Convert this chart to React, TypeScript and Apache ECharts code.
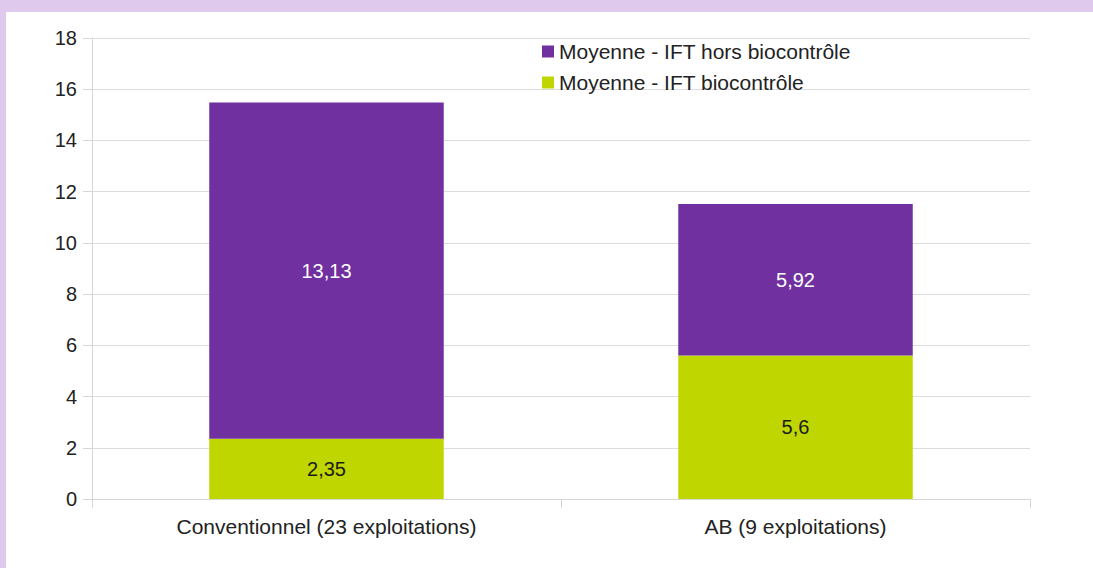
import React, { useEffect, useRef } from "react";
import * as echarts from "echarts";

const categories = ["Conventionnel (23 exploitations)", "AB (9 exploitations)"];
const biocontrole = [2.35, 5.6];
const horsBiocontrole = [13.13, 5.92];
const seriesNames = ["Moyenne - IFT hors biocontrôle", "Moyenne - IFT biocontrôle"];

const fmt = (v: number) => String(v).replace(".", ",");

export default function App() {
  const ref = useRef<HTMLDivElement>(null);
  useEffect(() => {
    document.body.style.margin = "0";
    const chart = echarts.init(ref.current!, null, { renderer: "svg" });
    const font = "'Liberation Sans', Arial, sans-serif";
    chart.setOption({
      animation: false,
      backgroundColor: "#dfc9ec",
      textStyle: { fontFamily: font },
      graphic: [
        {
          type: "rect",
          z: -10,
          silent: true,
          shape: { x: 6, y: 12, width: 1087, height: 556 },
          style: { fill: "#ffffff" },
        },
      ],
      legend: {
        orient: "vertical",
        left: 537,
        top: 36,
        itemWidth: 12,
        itemHeight: 12,
        itemGap: 10,
        icon: "rect",
        data: seriesNames,
        textStyle: { fontSize: 21, lineHeight: 20, color: "#222", fontFamily: font },
      },
      grid: { left: 92, right: 63, top: 38, bottom: 69, containLabel: false },
      xAxis: {
        type: "category",
        data: categories,
        axisLine: { show: true, lineStyle: { color: "#d6d6d6" } },
        axisTick: { show: true, length: 9, alignWithLabel: false, lineStyle: { color: "#d6d6d6" } },
        axisLabel: { fontSize: 21, color: "#222", margin: 17, fontFamily: font },
        splitLine: { show: false },
      },
      yAxis: {
        type: "value",
        min: 0,
        max: 18,
        interval: 2,
        axisLine: { show: true, lineStyle: { color: "#d6d6d6" } },
        axisTick: { show: true, length: 9, lineStyle: { color: "#d6d6d6" } },
        axisLabel: { fontSize: 20, color: "#222", margin: 15, fontFamily: font },
        splitLine: { show: true, lineStyle: { color: "#dcdcdc" } },
      },
      series: [
        {
          name: seriesNames[1],
          type: "bar",
          stack: "ift",
          barWidth: "50%",
          data: biocontrole,
          itemStyle: { color: "#c0d600" },
          label: {
            show: true,
            position: "inside",
            color: "#1a1a1a",
            fontSize: 20,
            fontFamily: font,
            formatter: (p: any) => fmt(p.value),
          },
        },
        {
          name: seriesNames[0],
          type: "bar",
          stack: "ift",
          barWidth: "50%",
          data: horsBiocontrole,
          itemStyle: { color: "#7030a0" },
          label: {
            show: true,
            position: "inside",
            color: "#ffffff",
            fontSize: 20,
            fontFamily: font,
            formatter: (p: any) => fmt(p.value),
          },
        },
      ],
    });
    return () => chart.dispose();
  }, []);
  return (
    <div
      ref={ref}
      style={{ position: "absolute", left: 0, top: 0, width: 1093, height: 568 }}
    />
  );
}
